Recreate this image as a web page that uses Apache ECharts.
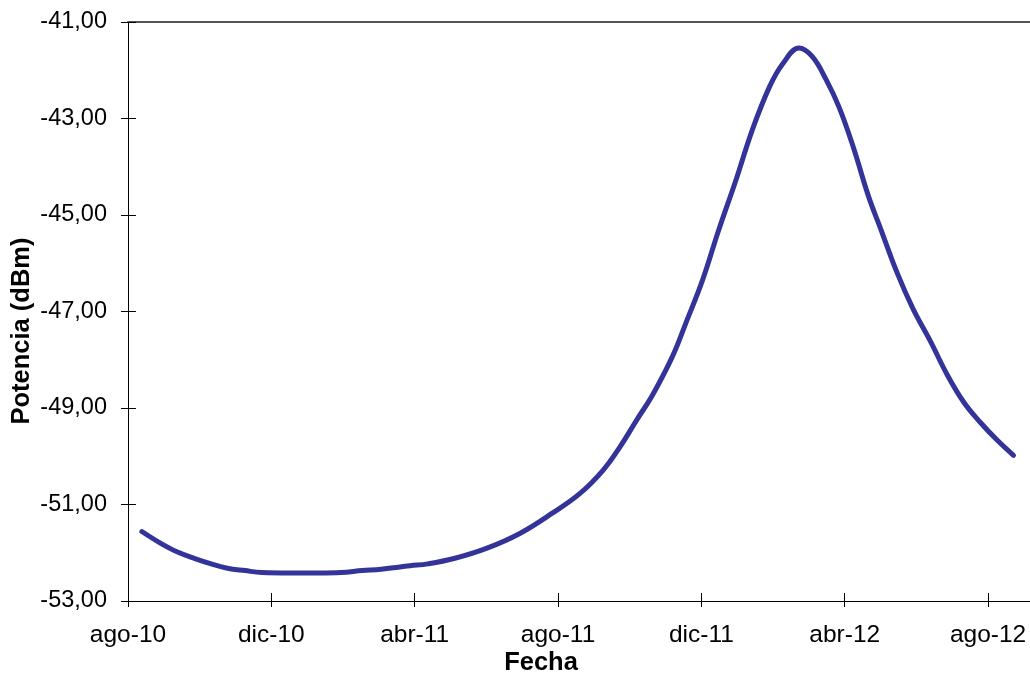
<!DOCTYPE html>
<html>
<head>
<meta charset="utf-8">
<script src="https://cdn.jsdelivr.net/npm/echarts@6/dist/echarts.min.js"></script>
<style>
  html, body { margin: 0; padding: 0; background: #fff; }
  #chart { width: 1030px; height: 678px; }
</style>
</head>
<body>
<div id="chart"></div>
<script>
// fechas de medida y potencia leida (dBm)
const fechas = [
  "2010-08-13", "2010-08-29", "2010-09-12", "2010-09-27", "2010-10-11", "2010-10-25",
  "2010-11-09", "2010-11-23", "2010-12-17", "2011-01-12", "2011-01-30", "2011-02-16",
  "2011-03-03", "2011-03-28", "2011-04-12", "2011-05-04", "2011-06-01", "2011-06-29",
  "2011-07-27", "2011-08-20", "2011-09-09", "2011-09-23", "2011-10-07", "2011-10-21",
  "2011-11-07", "2011-11-18", "2011-12-02", "2011-12-16", "2011-12-31", "2012-01-14",
  "2012-01-29", "2012-02-09", "2012-02-22", "2012-03-04", "2012-03-16", "2012-03-27",
  "2012-04-08", "2012-04-21", "2012-05-01", "2012-05-15", "2012-05-29", "2012-06-13",
  "2012-06-27", "2012-07-11", "2012-07-25", "2012-08-09", "2012-08-23"
];
const potencia = [
  -51.56, -51.80, -51.98, -52.12, -52.23, -52.32,
  -52.37, -52.41, -52.42, -52.42, -52.41, -52.37,
  -52.34, -52.27, -52.23, -52.12, -51.91, -51.60,
  -51.18, -50.77, -50.28, -49.80, -49.25, -48.72,
  -47.92, -47.24, -46.35, -45.31, -44.27, -43.24,
  -42.34, -41.86, -41.54, -41.72, -42.20, -42.76,
  -43.58, -44.62, -45.28, -46.18, -46.94, -47.63,
  -48.32, -48.88, -49.29, -49.67, -49.98
];
const meses = ["ene", "feb", "mar", "abr", "may", "jun", "jul", "ago", "sep", "oct", "nov", "dic"];
const yTicks = [-53, -51, -49, -47, -45, -43, -41];

// eje x en meses desde ago-10
const origen = { y: 2010, m: 8 };
function aMeses(s) {
  const p = s.split("-").map(Number);
  const dias = new Date(p[0], p[1], 0).getDate();
  return (p[0] - origen.y) * 12 + (p[1] - origen.m) + (p[2] - 1) / dias;
}
function etiqueta(v) {
  const t = origen.m - 1 + Math.round(v);
  const y = origen.y + Math.floor(t / 12);
  return meses[t % 12] + "-" + String(y % 100).padStart(2, "0");
}

const datos = fechas.map((f, i) => [aMeses(f), potencia[i]]);
const font = "'Liberation Sans', Arial, sans-serif";
const xMax = 25.17;

const chart = echarts.init(document.getElementById("chart"));
chart.setOption({
  backgroundColor: "#fff",
  animation: false,
  grid: { left: 128, right: 0, top: 22, bottom: 77 },
  xAxis: [
    {
      type: "value", min: 0, max: xMax, interval: 4,
      axisLine: { lineStyle: { color: "#000", width: 1 } },
      axisTick: { length: 6, lineStyle: { color: "#000" } },
      axisLabel: { formatter: etiqueta, color: "#000", fontSize: 24.5, fontFamily: font, margin: 22, showMaxLabel: false },
      splitLine: { show: false }
    },
    {
      type: "value", min: 0, max: xMax, interval: 4, position: "bottom",
      axisLine: { show: false },
      axisTick: { inside: true, length: 8, lineStyle: { color: "#000" } },
      axisLabel: { show: false },
      splitLine: { show: false }
    },
    {
      type: "value", min: 0, max: xMax, position: "top",
      axisLine: { lineStyle: { color: "#555", width: 2 } },
      axisTick: { show: false },
      axisLabel: { show: false },
      splitLine: { show: false }
    }
  ],
  yAxis: [
    {
      type: "value", min: yTicks[0], max: yTicks[yTicks.length - 1], interval: 2,
      axisLine: { show: true, lineStyle: { color: "#000", width: 1 } },
      axisTick: { show: true, length: 7, lineStyle: { color: "#000" } },
      axisLabel: {
        color: "#000", fontSize: 23.5, fontFamily: font, margin: 21, padding: [0, 0, 2, 0],
        formatter: v => v.toFixed(2).replace(".", ",")
      },
      splitLine: { show: false }
    },
    {
      type: "value", min: yTicks[0], max: yTicks[yTicks.length - 1], interval: 2, position: "left",
      axisLine: { show: false },
      axisTick: { show: true, inside: true, length: 8, lineStyle: { color: "#000" } },
      axisLabel: { show: false },
      splitLine: { show: false }
    }
  ],
  graphic: [
    {
      type: "text", x: 541, y: 663,
      style: { text: "Fecha", font: "bold 25.5px " + font, fill: "#000", align: "center", verticalAlign: "middle" }
    },
    {
      type: "text", x: 22, y: 331, rotation: Math.PI / 2,
      style: { text: "Potencia (dBm)", font: "bold 25.5px " + font, fill: "#000", align: "center", verticalAlign: "middle" }
    }
  ],
  series: [
    {
      type: "line",
      data: datos,
      smooth: 0.4,
      showSymbol: false,
      lineStyle: { color: "#333399", width: 5, cap: "round" }
    }
  ]
});
</script>
</body>
</html>
